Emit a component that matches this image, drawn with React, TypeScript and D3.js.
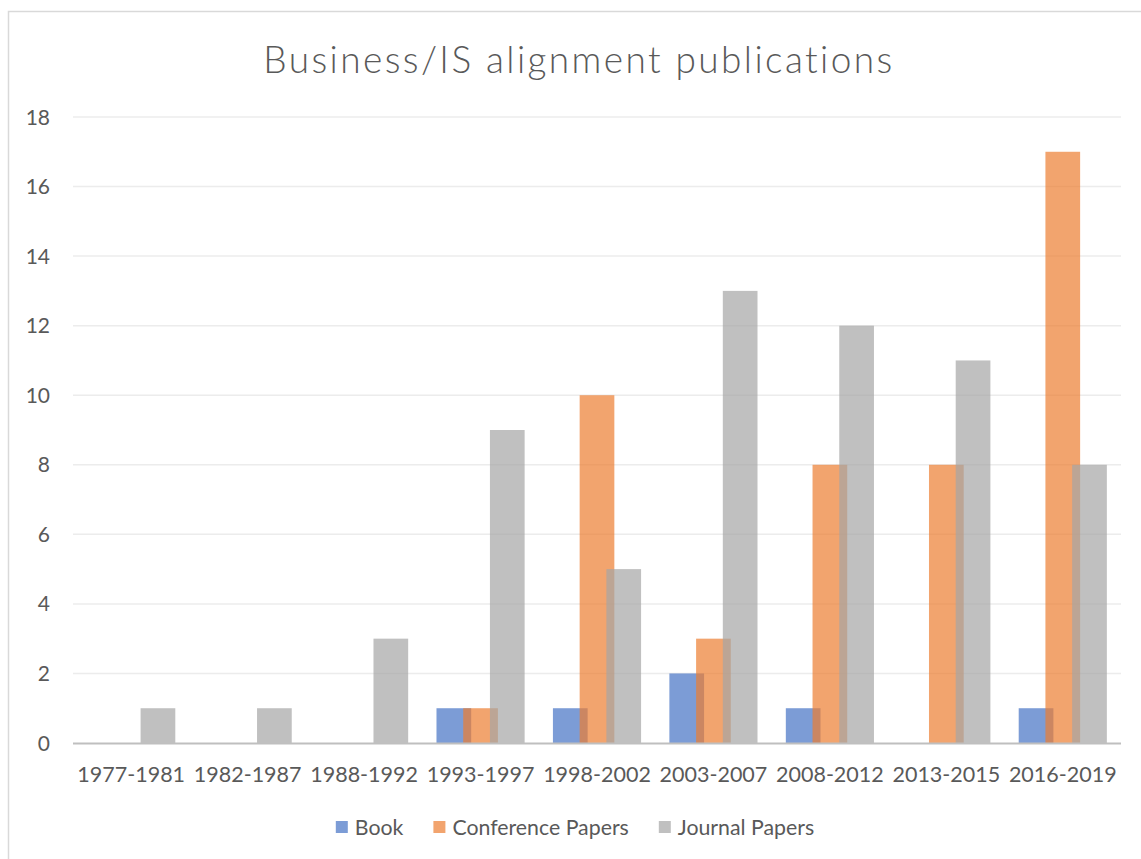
import React, { useEffect, useRef } from "react";
import * as d3 from "d3";

const categories = [
  "1977-1981",
  "1982-1987",
  "1988-1992",
  "1993-1997",
  "1998-2002",
  "2003-2007",
  "2008-2012",
  "2013-2015",
  "2016-2019",
];
const seriesNames = ["Book", "Conference Papers", "Journal Papers"];
const book = [0, 0, 0, 1, 1, 2, 1, 0, 1];
const conference = [0, 0, 0, 1, 10, 3, 8, 8, 17];
const journal = [1, 1, 3, 9, 5, 13, 12, 11, 8];
const yTicks = [0, 2, 4, 6, 8, 10, 12, 14, 16, 18];
const colors = ["#4472C4", "#ED7D31", "#A5A5A5"];

const W = 1141;
const H = 859;
const FONT = "Lato, 'Open Sans', sans-serif";

export default function App() {
  const ref = useRef<SVGSVGElement>(null);

  useEffect(() => {
    draw();
  }, []);

  const draw = () => {
    const svg = d3.select(ref.current);
    svg.selectAll("*").remove();

    const left = 73;
    const right = 1121;
    const top = 117;
    const bottom = 743;

    // chart frame
    svg
      .append("rect")
      .attr("x", 8.5)
      .attr("y", 11.5)
      .attr("width", W + 20)
      .attr("height", H + 20)
      .attr("fill", "white")
      .attr("stroke", "#D9D9D9")
      .attr("stroke-width", 1.5);

    const x = d3.scaleBand().domain(categories).range([left, right]);
    const y = d3.scaleLinear().domain([0, 18]).range([bottom, top]);

    // gridlines
    svg
      .append("g")
      .selectAll("line")
      .data(yTicks.filter((d) => d > 0))
      .enter()
      .append("line")
      .attr("x1", left)
      .attr("x2", right)
      .attr("y1", (d) => y(d))
      .attr("y2", (d) => y(d))
      .attr("stroke", "#ECECEC")
      .attr("stroke-width", 1.5);

    // y labels
    svg
      .append("g")
      .selectAll("text")
      .data(yTicks)
      .enter()
      .append("text")
      .attr("x", 50)
      .attr("y", (d) => y(d))
      .attr("dy", "0.36em")
      .attr("text-anchor", "end")
      .style("font-family", FONT)
      .style("font-size", "21px")
      .style("fill", "#595959")
      .text((d) => d);

    // bars: width ~ 35px, overlapping by ~8px
    const step = x.bandwidth();
    const barW = step * 0.298;
    const offset = barW * 0.77;
    const series = [book, conference, journal];
    series.forEach((vals, i) => {
      svg
        .append("g")
        .selectAll("rect")
        .data(vals)
        .enter()
        .append("rect")
        .attr("x", (d, j) => x(categories[j])! + step / 2 + (i - 1) * offset - barW / 2)
        .attr("y", (d) => y(d))
        .attr("width", barW)
        .attr("height", (d) => bottom - y(d))
        .attr("fill", colors[i])
        .attr("fill-opacity", 0.7);
    });

    // x axis line
    svg
      .append("line")
      .attr("x1", left)
      .attr("x2", right)
      .attr("y1", bottom + 0.5)
      .attr("y2", bottom + 0.5)
      .attr("stroke", "#BFBFBF")
      .attr("stroke-width", 2);

    // x labels
    svg
      .append("g")
      .selectAll("text")
      .data(categories)
      .enter()
      .append("text")
      .attr("x", (d) => x(d)! + step / 2)
      .attr("y", 782)
      .attr("text-anchor", "middle")
      .style("font-family", FONT)
      .style("font-size", "21.5px")
      .style("fill", "#595959")
      .text((d) => d);

    // title
    svg
      .append("text")
      .attr("x", 579)
      .attr("y", 73)
      .attr("text-anchor", "middle")
      .style("font-family", FONT)
      .style("font-weight", 300)
      .style("font-size", "37px")
      .style("letter-spacing", "2.4px")
      .style("fill", "#595959")
      .text("Business/IS alignment publications");

    // legend
    const legend = svg.append("g");
    let cx = 0;
    seriesNames.forEach((name, i) => {
      const g = legend.append("g").attr("transform", `translate(${cx},0)`);
      g.append("rect")
        .attr("x", 0)
        .attr("y", -6)
        .attr("width", 12)
        .attr("height", 12)
        .attr("fill", colors[i])
        .attr("fill-opacity", 0.7);
      const t = g
        .append("text")
        .attr("x", 19)
        .attr("y", 0)
        .attr("dy", "0.36em")
        .style("font-family", FONT)
        .style("font-size", "21.3px")
        .style("fill", "#595959")
        .text(name);
      const tw = (t.node() as SVGTextElement).getComputedTextLength();
      cx += 19 + tw + 30;
    });
    const total = cx - 30;
    legend.attr("transform", `translate(${575 - total / 2},827)`);
  };

  return (
    <svg
      ref={ref}
      width={W}
      height={H}
      style={{ position: "absolute", left: 0, top: 0, background: "white" }}
    />
  );
}
